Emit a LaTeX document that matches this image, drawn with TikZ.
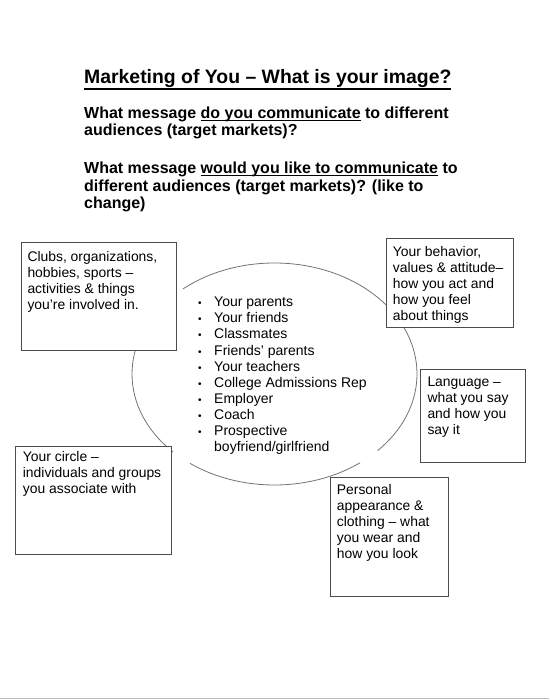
\documentclass[tikz,border=0pt]{standalone}
\usepackage{fontspec}
\setmainfont{Liberation Sans}
\usepackage{tikz}

% underline at a given depth below the baseline: depth, thickness, text
\newcommand{\undl}[3]{\setbox0\hbox{#3}\rlap{\rule[-#1]{\wd0}{#2}}\box0\relax}
% bullet of the audience list
\newcommand{\bul}{\makebox[16pt][l]{\fontsize{10pt}{10pt}\selectfont\textbullet}}

\begin{document}
\begin{tikzpicture}[x=1pt, y=1pt,
    infobox/.style={draw=black!70, line width=0.9pt, fill=white},
    ring/.style={draw=black!55, line width=0.8pt},
    boxtxt/.style={anchor=base west, inner sep=0pt, align=left,
        font=\fontsize{13.9pt}{16pt}\selectfont},
    heading/.style={anchor=base west, inner sep=0pt, align=left,
        font=\bfseries\fontsize{16pt}{17.7pt}\selectfont}]

    % Page
    \useasboundingbox (0,0) rectangle (549,-700);
    \draw[black!25, line width=1.5pt] (0,-698.5) -- (549,-698.5);

    % Title and questions (nodes sit on the baseline of their last line)
    \node[anchor=base west, inner sep=0pt,
        font=\bfseries\fontsize{19.4pt}{22pt}\selectfont] (title) at (84,-83.3)
        {\undl{6.9pt}{1.8pt}{Marketing of You – What is your image?}};
    \node[heading] (askdo) at (84,-136)
        {What message \undl{2.6pt}{1.3pt}{do you communicate} to different\\
         audiences (target markets)?};
    \node[heading] (asklike) at (84,-208.8)
        {What message \undl{2.6pt}{1.3pt}{would you like to communicate} to\\
         different audiences (target markets)? (like to\\
         change)};

    % Ellipse centre, radii 142.5 x 111
    \coordinate (mid) at (274.5,-374);

    % Ellipse, broken where the boxes and list sit
    \draw[ring] ([shift={(130:142.5pt and 111pt)}]mid)
        arc[start angle=130, end angle=-43.7, x radius=142.5pt, y radius=111pt];
    \draw[ring] ([shift={(-53.1:142.5pt and 111pt)}]mid)
        arc[start angle=-53.1, end angle=-126.4, x radius=142.5pt, y radius=111pt];
    \draw[ring] ([shift={(-135.4:142.5pt and 111pt)}]mid)
        arc[start angle=-135.4, end angle=-223.7, x radius=142.5pt, y radius=111pt];

    % Audience list inside the ellipse
    \node[anchor=base west, inner sep=0pt, align=left,
        font=\fontsize{14pt}{16.1pt}\selectfont] (audiences) at (198,-451.6)
        {\bul Your parents\\
         \bul Your friends\\
         \bul Classmates\\
         \bul Friends’ parents\\
         \bul Your teachers\\
         \bul College Admissions Rep\\
         \bul Employer\\
         \bul Coach\\
         \bul Prospective\\
         \hspace*{16pt}boyfriend/girlfriend};

    % Boxes round the ellipse
    \draw[infobox] (21,-242) rectangle (176,-350);
    \node[boxtxt] (clubs) at (27.3,-309)
        {Clubs, organizations,\\ hobbies, sports –\\ activities \& things\\ you’re involved in.};

    \draw[infobox] (386,-238) rectangle (513,-327);
    \node[boxtxt] (behavior) at (392.7,-320)
        {Your behavior,\\ values \& attitude–\\ how you act and\\ how you feel\\ about things};

    \draw[infobox] (420,-369) rectangle (525,-462);
    \node[boxtxt] (language) at (427.3,-434.7)
        {Language –\\ what you say\\ and how you\\ say it};

    \draw[infobox] (15,-446) rectangle (171,-554);
    \node[boxtxt] (yourcircle) at (22.7,-493.7)
        {Your circle –\\ individuals and groups\\ you associate with};

    \draw[infobox] (330,-477) rectangle (448,-596);
    \node[boxtxt] (appearance) at (336.7,-558)
        {Personal\\ appearance \&\\ clothing – what\\ you wear and\\ how you look};

\end{tikzpicture}
\end{document}
